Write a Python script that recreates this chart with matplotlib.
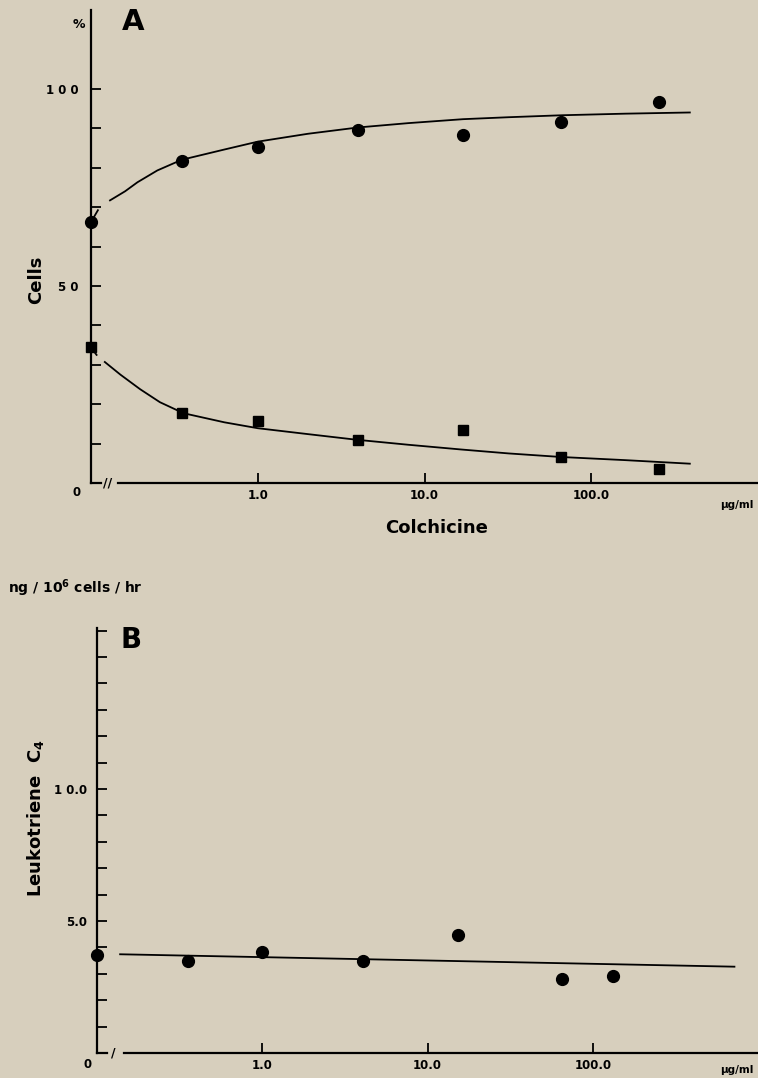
import matplotlib
matplotlib.use("Agg")
import matplotlib.pyplot as plt
from matplotlib.ticker import MultipleLocator, NullLocator, FixedLocator

# ---- data ----
# panel A: % cells vs colchicine (ug/ml), 0 is drawn at the axis origin
conc_a = [0, 0.35, 1.0, 4.0, 17, 66, 256]
cells_circle = [66.2, 81.8, 85.2, 89.6, 88.3, 91.6, 96.7]
cells_square = [34.5, 17.7, 15.8, 11.0, 13.5, 6.7, 3.5]

# fitted curves as drawn (None = gap in the pen line)
fit_circle_x = [0.1, 0.11, None, 0.13, 0.16, 0.19, 0.25, 0.35, 0.63, 1.0, 2.0, 4.0,
                8.0, 17, 32, 67, 160, 390]
fit_circle_y = [66.2, 69.2, None, 71.7, 74.0, 76.3, 79.3, 82.0, 84.6, 86.6, 88.6, 90.2,
                91.3, 92.3, 92.8, 93.3, 93.7, 94.0]
fit_square_x = [0.1, 0.108, None, 0.121, 0.15, 0.197, 0.259, 0.359, 0.63, 1.0, 2.0, 3.86,
                8.0, 16.6, 32, 65.8, 160, 390]
fit_square_y = [34.4, 32.5, None, 30.7, 27.5, 23.8, 20.5, 17.7, 15.4, 13.9, 12.4, 11.0,
                9.7, 8.5, 7.5, 6.6, 5.8, 4.9]

# panel B: leukotriene C4 (ng/10^6 cells/hr)
conc_b = [0, 0.355, 1.0, 4.08, 15.2, 65, 133]
ltc4 = [3.72, 3.47, 3.83, 3.47, 4.47, 2.80, 2.92]
fit_b_x = [0.138, 720]
fit_b_y = [3.74, 3.27]

x_ticks = [1, 10, 100]
x_ticklabels = ["1.0", "10.0", "100.0"]

bg = "#d7cfbd"
W, H = 758, 1078


def xpos(vals):
    # zero concentration sits on the broken origin (0.1 on the log scale)
    return [v if v > 0 else 0.1 for v in vals]


def gap(vals):
    return [float("nan") if v is None else v for v in vals]


fig = plt.figure(figsize=(W / 100, H / 100), dpi=100, facecolor=bg)
tfont = dict(fontweight="bold", fontsize=8.5, family="DejaVu Sans")


def style_axis(ax, break_mark):
    ax.set_facecolor(bg)
    ax.set_xscale("log")
    ax.set_xlim(0.1, 1000)
    for s in ["top", "right"]:
        ax.spines[s].set_visible(False)
    ax.spines["left"].set_linewidth(1.6)
    ax.spines["bottom"].set_linewidth(1.6)
    ax.spines["bottom"].set_bounds(0.145, 1000)
    ax.plot([0.1, 0.115], [0, 0], color="k", lw=1.6, clip_on=False)
    ax.text(0.126, 0, break_mark, ha="center", va="center", fontsize=9,
            fontweight="bold", clip_on=False)
    ax.xaxis.set_minor_locator(NullLocator())
    ax.set_xticks(x_ticks)
    ax.set_xticklabels(x_ticklabels, **tfont)
    ax.tick_params(axis="x", which="major", direction="in", length=7, width=1.3, pad=4)
    ax.tick_params(axis="y", which="both", direction="in", length=7, width=1.3)


# ---------------- panel A ----------------
axA = fig.add_axes([91 / W, 1 - 483 / H, 1 - 91 / W, (483 - 10) / H])
style_axis(axA, "//")
axA.set_ylim(0, 120)
axA.set_yticks([50, 100])
axA.set_yticklabels(["5 0", "1 0 0"], **tfont)
axA.yaxis.set_minor_locator(FixedLocator([10, 20, 30, 40, 60, 70, 80, 90]))
axA.tick_params(axis="y", pad=9)

axA.plot(gap(fit_circle_x), gap(fit_circle_y), color="k", lw=1.3, clip_on=False)
axA.plot(gap(fit_square_x), gap(fit_square_y), color="k", lw=1.3, clip_on=False)
axA.plot(xpos(conc_a), cells_circle, "o", color="k", ms=8.5, clip_on=False)
axA.plot(xpos(conc_a), cells_square, "s", color="k", ms=7.5, clip_on=False)

fig.text(77 / W, 1 - 493 / H, "0", ha="center", va="center", **tfont)
fig.text(79 / W, 1 - 24 / H, "%", ha="center", va="center", fontsize=9, fontweight="bold")
fig.text(122 / W, 1 - 22 / H, "A", ha="left", va="center", fontsize=21, fontweight="bold")
fig.text(36 / W, 1 - 280 / H, "Cells", ha="center", va="center", rotation=90,
         fontsize=13, fontweight="bold")
fig.text(737 / W, 1 - 505 / H, "\u00b5g/ml", ha="center", va="center", fontsize=7.5,
         fontweight="bold")
fig.text(437 / W, 1 - 528 / H, "Colchicine", ha="center", va="center", fontsize=13,
         fontweight="bold")

# ---------------- panel B ----------------
axB = fig.add_axes([97 / W, 1 - 1053 / H, 1 - 97 / W, (1053 - 628) / H])
style_axis(axB, "/")
axB.set_ylim(0, 16.1)
axB.set_yticks([5, 10])
axB.set_yticklabels(["5.0", "1 0.0"], **tfont)
axB.yaxis.set_minor_locator(MultipleLocator(1))
axB.tick_params(axis="y", pad=7)

axB.plot(fit_b_x, fit_b_y, color="k", lw=1.3)
axB.plot(xpos(conc_b), ltc4, "o", color="k", ms=8.5, clip_on=False)

fig.text(88 / W, 1 - 1064 / H, "0", ha="center", va="center", **tfont)
fig.text(120 / W, 1 - 640 / H, "B", ha="left", va="center", fontsize=20, fontweight="bold")
fig.text(8 / W, 1 - 588 / H, r"ng / 10$^{\mathbf{6}}$ cells / hr", ha="left", va="center",
         fontsize=10, fontweight="bold")
fig.text(36 / W, 1 - 818 / H, r"Leukotriene  C$_{\mathbf{4}}$", ha="center", va="center",
         rotation=90, fontsize=13, fontweight="bold")
fig.text(737 / W, 1 - 1070 / H, "\u00b5g/ml", ha="center", va="center", fontsize=7.5,
         fontweight="bold")

fig.savefig("out.png", dpi=100, facecolor=bg)
